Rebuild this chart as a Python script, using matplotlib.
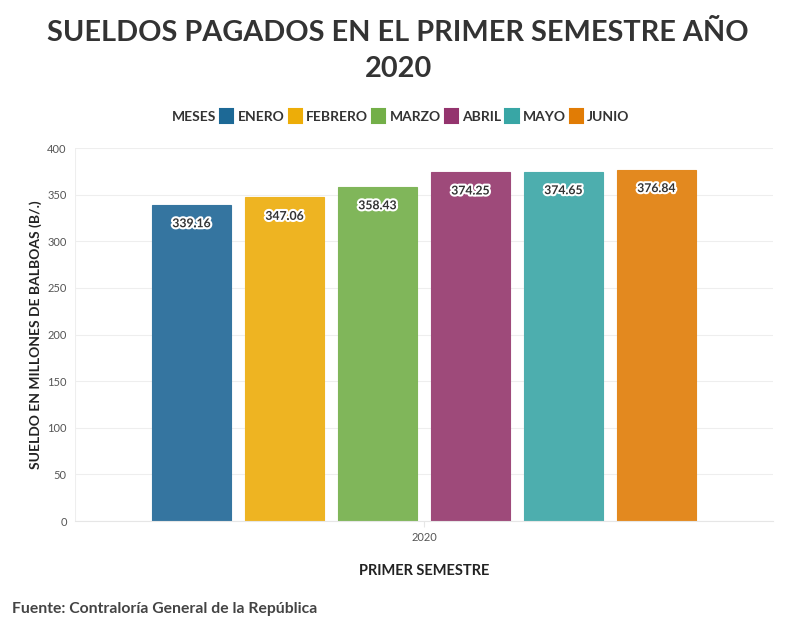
import matplotlib
matplotlib.use("Agg")
import matplotlib.pyplot as plt
import matplotlib.patheffects as pe
from matplotlib.patches import Patch
import numpy as np

plt.rcParams['font.family'] = ['Lato', 'DejaVu Sans']

months = ["ENERO", "FEBRERO", "MARZO", "ABRIL", "MAYO", "JUNIO"]
values = [339.16, 347.06, 358.43, 374.25, 374.65, 376.84]
bar_colors = ["#3575a0", "#eeb422", "#80b65a", "#9e4a7a", "#4daeae", "#e3891f"]
legend_colors = ["#1d6996", "#edad08", "#73af48", "#94346e", "#38a6a5", "#e17c05"]
category = "2020"
yticks = [0, 50, 100, 150, 200, 250, 300, 350, 400]

W, H = 796, 630
fig = plt.figure(figsize=(W/100, H/100), dpi=100)
ax = fig.add_axes([75/W, (H-521)/H, (773-75)/W, (521-148)/H])

n = len(values)
pitch = 0.1332
width = 0.1132
xs = (np.arange(n) - (n-1)/2) * pitch
bars = ax.bar(xs, values, width=width, color=bar_colors, edgecolor=bar_colors,
              linewidth=0.8, zorder=3)
for b, v in zip(bars, values):
    ax.annotate(f"{v:.2f}", (b.get_x()+b.get_width()/2, v), xytext=(0, -19),
                textcoords="offset pixels",
                ha="center", va="center", fontsize=8.8, fontweight="bold", color="#333333",
                path_effects=[pe.withStroke(linewidth=3, foreground="white")], zorder=5)

ax.set_xlim(-0.5, 0.5)
ax.set_ylim(0, 400)
ax.set_yticks(yticks)
ax.set_yticklabels([str(t) for t in yticks])
ax.set_xticks([0])
ax.set_xticklabels([category])
ax.tick_params(axis='y', length=0, labelsize=8, colors="#555555", pad=6)
ax.tick_params(axis='x', length=4, width=0.8, color="#e6e6e6", labelsize=8,
               labelcolor="#555555", pad=4)
ax.grid(axis='y', color="#eeeeee", linewidth=0.8, zorder=0)
for s in ["top", "right", "left"]:
    ax.spines[s].set_visible(False)
ax.spines["bottom"].set_color("#e6e6e6")
ax.spines["bottom"].set_zorder(4)
ax.axvline(-0.5, color="#eeeeee", lw=0.8, zorder=0)

ax.set_ylabel("SUELDO EN MILLONES DE BALBOAS (B/.)", fontsize=10, fontweight="bold",
              color="#222222", labelpad=4)
ax.set_xlabel("PRIMER SEMESTRE", fontsize=10.5, fontweight="bold", color="#222222", labelpad=15)

fig.text(398/W, 1-51/H, "SUELDOS PAGADOS EN EL PRIMER SEMESTRE AÑO\n2020",
         ha="center", va="center", fontsize=20.8, fontweight="bold", color="#333333",
         linespacing=1.5)

handles = [Patch(facecolor="none", edgecolor="none")] + \
          [Patch(facecolor=c, edgecolor=c, joinstyle="round", linewidth=1.5) for c in legend_colors]
labels = ["MESES"] + months
leg = fig.legend(handles, labels, ncol=7, loc="center", bbox_to_anchor=(392/W, 1-116/H),
                 frameon=False, handlelength=0.95, handleheight=1.1, handletextpad=0.3,
                 columnspacing=0.3, prop={'weight': 'bold', 'size': 10})
for t in leg.get_texts():
    t.set_color("#333333")

fig.text(12/W, 1-609/H, "Fuente: Contraloría General de la República", ha="left", va="center",
         fontsize=11.3, fontweight="bold", color="#444444")

fig.savefig("out.png", dpi=100)
